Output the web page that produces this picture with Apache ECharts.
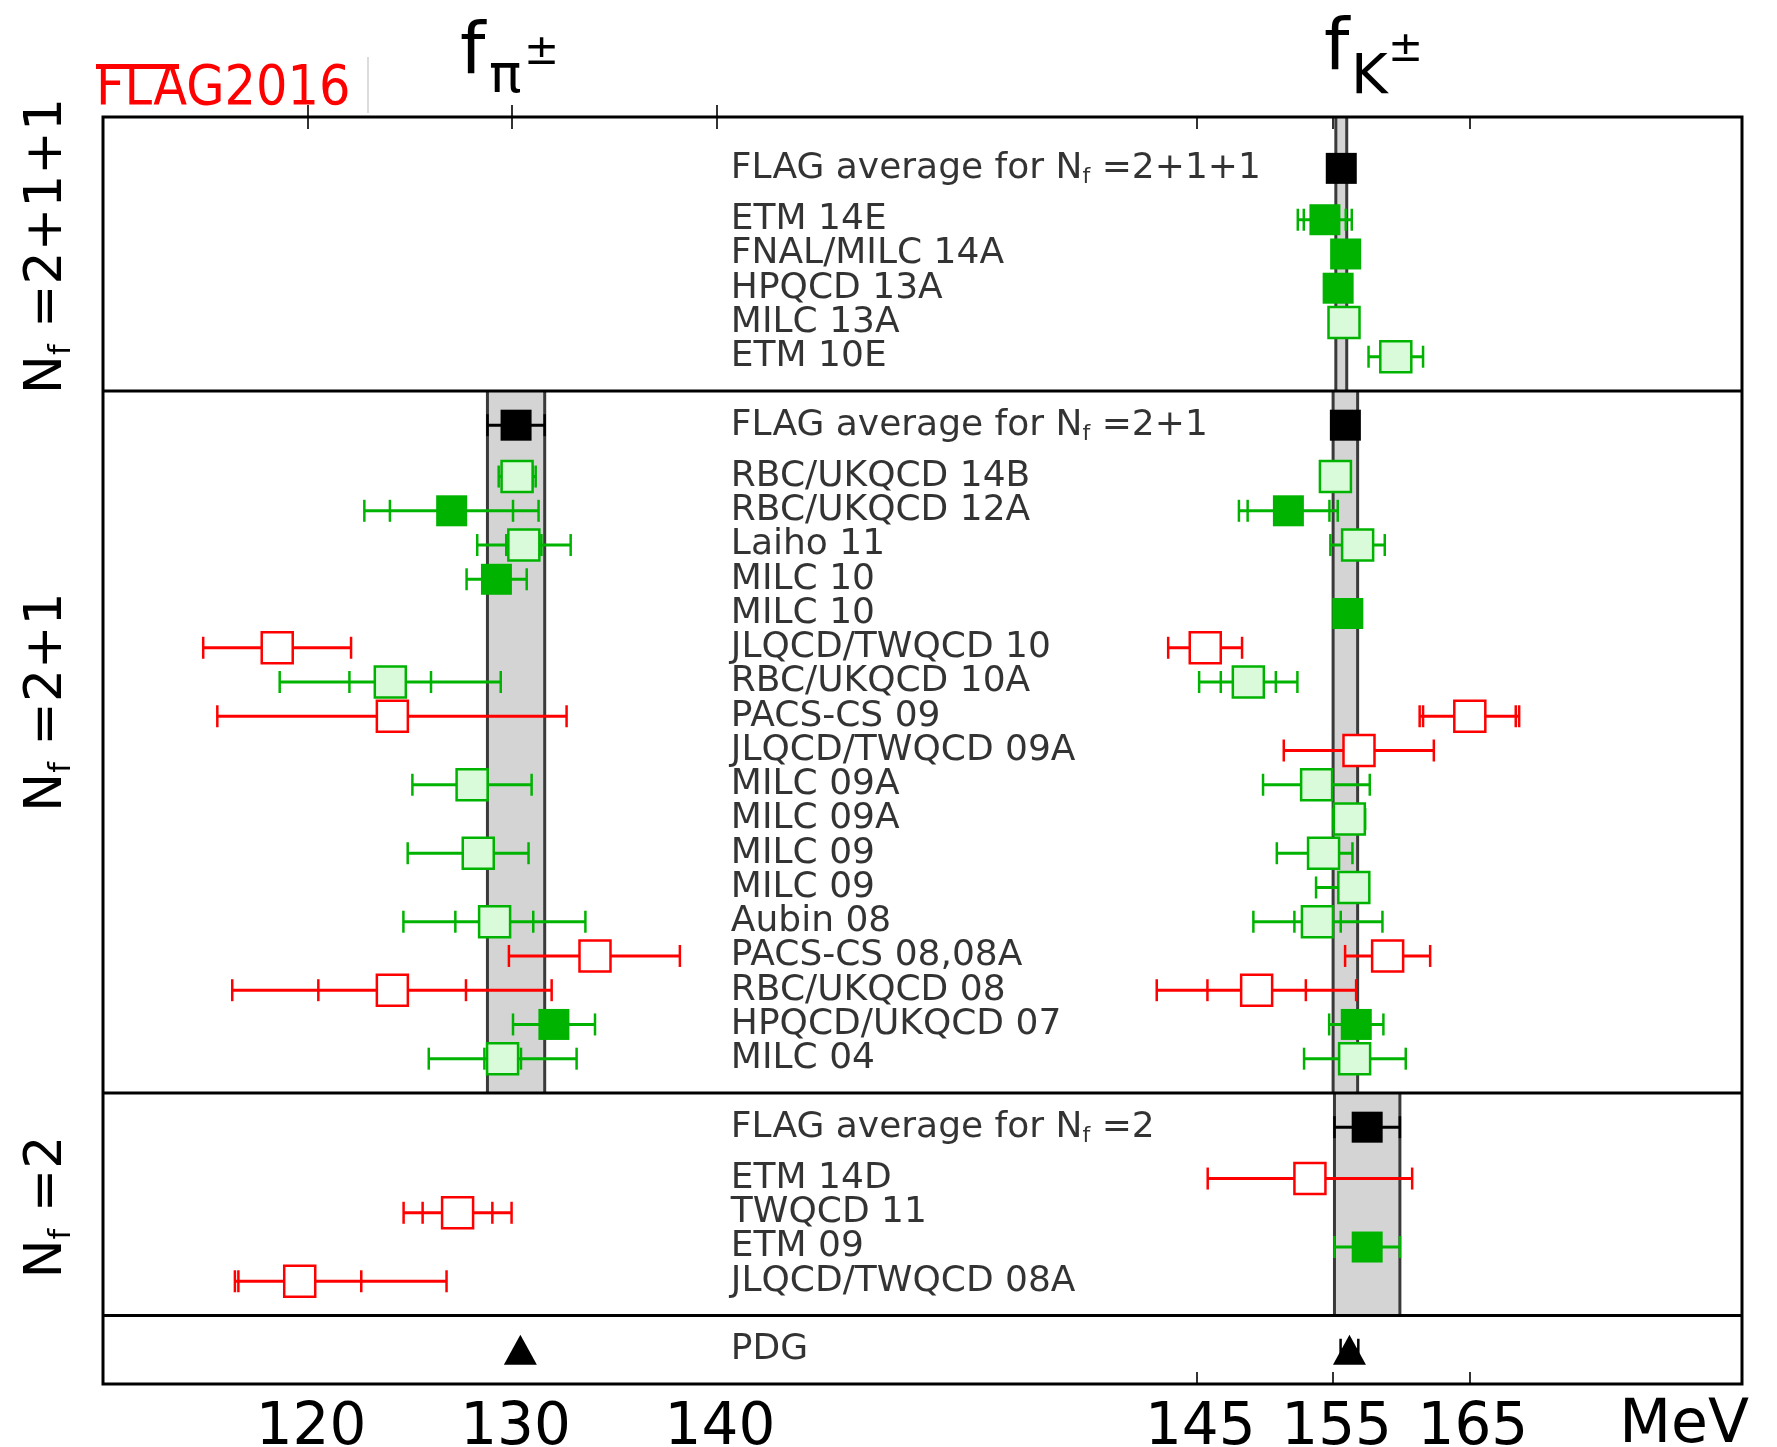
<!DOCTYPE html>
<html><head><meta charset="utf-8">
<script src="https://cdn.jsdelivr.net/npm/echarts@6/dist/echarts.min.js"></script>
<style>html,body{margin:0;padding:0;background:#fff}#c{width:1777px;height:1447px}</style>
</head><body><div id="c"></div>
<script>
// ---------------- DATA ----------------
const sectionNf = ['2+1+1', '2+1', '2'];
const rowLabels = [
  'FLAG average', 'ETM 14E', 'FNAL/MILC 14A', 'HPQCD 13A', 'MILC 13A', 'ETM 10E',
  'FLAG average', 'RBC/UKQCD 14B', 'RBC/UKQCD 12A', 'Laiho 11', 'MILC 10', 'MILC 10', 'JLQCD/TWQCD 10',
  'RBC/UKQCD 10A', 'PACS-CS 09', 'JLQCD/TWQCD 09A', 'MILC 09A', 'MILC 09A', 'MILC 09', 'MILC 09',
  'Aubin 08', 'PACS-CS 08,08A', 'RBC/UKQCD 08', 'HPQCD/UKQCD 07', 'MILC 04',
  'FLAG average', 'ETM 14D', 'TWQCD 11', 'ETM 09', 'JLQCD/TWQCD 08A',
  'PDG'
];
const rowSection = [0,0,0,0,0,0, 1,1,1,1,1,1,1,1,1,1,1,1,1,1,1,1,1,1,1, 2,2,2,2,2, 3];
const rowKind = ['avg','filled','filled','filled','open','open',
  'avg','open','filled','open','filled','filled','red','open','red','red','open','open','open','open','open','red','red','filled','open',
  'avg','red','red','filled','red',
  'pdg'];

// f_pi (MeV)
const fpiVal = [null,null,null,null,null,null,
  130.2,130.25,127.05,130.58,129.24,null,118.52,124.05,124.15,null,128.05,null,128.35,null,129.15,134.06,124.15,132.05,129.54,
  null,null,127.34,null,119.62,
  130.41];
const fpiStat = [null,null,null,null,null,null,
  null,[129.53,131.0],[124.03,130.05],[129.72,131.44],null,null,null,[122.05,126.04],null,null,null,null,null,null,[127.23,131.04],null,[120.53,127.75],null,[128.65,130.44],
  null,null,[125.63,129.04],null,[116.62,122.63],
  null];
const fpiTot = [null,null,null,null,null,null,
  [128.8,131.6],[129.35,131.16],[122.78,131.3],[128.3,132.87],[127.78,130.72],null,[114.9,122.13],[118.64,129.45],[115.59,132.67],null,[125.13,130.96],null,[124.9,130.81],null,[124.69,133.59],[129.85,138.21],[116.32,131.94],[130.05,134.06],[125.93,133.16],
  null,null,[124.7,129.98],null,[116.45,126.8],
  null];

// f_K (MeV)
const fkVal = [155.6,154.4,155.92,155.37,155.80,159.6,
  155.9,155.17,151.72,156.8,null,156.08,145.62,148.78,165.03,156.9,153.79,156.19,154.3,156.52,153.85,159.0,149.39,156.7,156.58,
  157.5,153.3,null,157.5,null,
  156.2];
const fkStat = [null,[152.85,155.93],null,null,null,null,
  null,null,[148.73,154.73],[155.8,157.8],null,null,null,[146.76,150.8],[161.6,168.4],null,null,null,null,null,[152.16,155.56],null,[145.78,153.0],null,null,
  null,null,null,null,null,
  null];
const fkTot = [[155.2,156.0],[152.41,156.37],[155.69,156.26],[155.03,155.71],[155.16,156.44],[157.6,161.6],
  [155.0,156.8],[154.3,156.06],[148.09,155.34],[154.8,158.79],null,[155.2,156.7],[142.9,148.32],[145.17,152.38],[161.35,168.65],[151.38,162.39],[149.86,157.69],[155.02,157.35],[150.87,156.42],[153.75,157.5],[149.15,158.62],[155.88,162.12],[142.06,156.69],[154.71,158.69],[152.87,160.33],
  [155.1,159.9],[145.8,160.8],null,[155.1,159.9],null,
  [155.55,156.85]];

// FLAG average bands per section
const fpiBands = [null, [128.8,131.6], null];
const fkBands  = [[155.2,156.0], [155.0,156.8], [155.1,159.9]];

const fpiTicks = [120,130,140];
const fkTicks  = [145,155,165];

// ---------------- LAYOUT ----------------
const FONT = 'DejaVu Sans';
const rowY = [];
const sectionBounds = [];
let cursor = 0.5;
for (let s = 0; s < 3; s++) {
  const idx = rowSection.map((v,i)=>v===s?i:-1).filter(i=>i>=0);
  const start = cursor;
  idx.forEach((ri, k) => { rowY[ri] = k === 0 ? start + 1 : start + 2.5 + (k - 1); });
  const end = start + 2.5 + (idx.length - 1);
  sectionBounds.push([s === 0 ? 0 : start, end]);
  cursor = end;
}
rowSection.forEach((s,i)=>{ if (s === 3) rowY[i] = cursor + 1; });
const yMax = cursor + 2;
const dividers = [sectionBounds[0][1], sectionBounds[1][1], sectionBounds[2][1]];

const kindFill = {avg:'#000000', filled:'#00b300', open:'#d9fbd9', red:'#ffffff', pdg:'#000000'};
const kindBorder = {avg:'#000000', filled:'#00b300', open:'#00b300', red:'#ff0000', pdg:'#000000'};
const kindBW = {avg:0, filled:0, open:2.5, red:2.5, pdg:0};
const kindLine = {avg:'#000000', filled:'#00b300', open:'#00b300', red:'#ff0000', pdg:'#000000'};

function bandSeries(axis, bands) {
  const data = [];
  bands.forEach((b, s) => { if (b) data.push([b[0], b[1], sectionBounds[s][0], sectionBounds[s][1]]); });
  return {
    type: 'custom', xAxisIndex: axis, yAxisIndex: 0, z: 1, silent: true,
    encode: {x: [0,1], y: [2,3]},
    data,
    renderItem(params, api) {
      const p0 = api.coord([api.value(0), api.value(2)]);
      const p1 = api.coord([api.value(1), api.value(3)]);
      return {type:'group', children:[
        {type:'rect', shape:{x:p0[0], y:p0[1], width:p1[0]-p0[0], height:p1[1]-p0[1]}, style:{fill:'#d4d4d4'}},
        {type:'line', shape:{x1:p0[0], y1:p0[1], x2:p0[0], y2:p1[1]}, style:{stroke:'#3a3a3a', lineWidth:3}},
        {type:'line', shape:{x1:p1[0], y1:p0[1], x2:p1[0], y2:p1[1]}, style:{stroke:'#3a3a3a', lineWidth:3}}
      ]};
    }
  };
}

function errSeries(axis, vals, stat, tot) {
  const data = [], cols = [];
  vals.forEach((v, i) => {
    if (v == null || !tot[i]) return;
    const st = stat[i];
    data.push([tot[i][0], tot[i][1], st ? st[0] : '-', st ? st[1] : '-', rowY[i]]);
    cols.push(kindLine[rowKind[i]]);
  });
  return {
    type: 'custom', xAxisIndex: axis, yAxisIndex: 0, z: 3, silent: true,
    encode: {x: [0,1], y: 4},
    data,
    renderItem(params, api) {
      const y = api.value(4);
      const col = cols[params.dataIndex];
      const a = api.coord([api.value(0), y]), b = api.coord([api.value(1), y]);
      const ch = [{type:'line', shape:{x1:a[0], y1:a[1], x2:b[0], y2:b[1]}, style:{stroke:col, lineWidth:3}}];
      [0,1,2,3].forEach(d => {
        const v = api.value(d);
        if (v === '-' || v == null || isNaN(v)) return;
        const p = api.coord([v, y]);
        ch.push({type:'line', shape:{x1:p[0], y1:p[1]-11, x2:p[0], y2:p[1]+11}, style:{stroke:col, lineWidth:2.5}});
      });
      return {type:'group', children: ch};
    }
  };
}

function markerSeries(axis, vals) {
  const data = [];
  vals.forEach((v, i) => {
    if (v == null) return;
    const k = rowKind[i];
    data.push({
      value: [v, rowY[i]],
      symbol: k === 'pdg' ? 'triangle' : 'rect',
      symbolSize: k === 'pdg' ? [33, 30] : 31,
      itemStyle: {color: kindFill[k], borderColor: kindBorder[k], borderWidth: kindBW[k], opacity: 1}
    });
  });
  return {type:'scatter', xAxisIndex: axis, yAxisIndex: 0, z: 4, silent: true, data};
}

const labelAnchor = 140.7; // fpi-axis units where the row names start
const labelSeries = {
  type: 'scatter', xAxisIndex: 0, yAxisIndex: 0, z: 5, silent: true,
  symbolSize: 0.1, itemStyle: {color: 'rgba(0,0,0,0)'},
  data: rowLabels.map((n, i) => ({value: [labelAnchor, rowY[i]], name: rowKind[i] === 'avg' ? 'FLAG average for N{f|f} =' + sectionNf[rowSection[i]] : n})),
  label: {
    show: true, position: 'right', distance: 0,
    formatter: p => p.name,
    fontFamily: FONT, fontSize: 36, color: '#000', lineHeight: 40,
    rich: {f: {fontFamily: FONT, fontSize: 22, lineHeight: 20, verticalAlign: 'bottom', color:'#000'}}
  }
};

const frameSeries = {
  type: 'custom', xAxisIndex: 0, yAxisIndex: 0, z: 6, silent: true,
  encode: {y: 0},
  data: dividers.map(d => [d]),
  renderItem(params, api) {
    const cs = params.coordSys;
    const y = api.coord([120, api.value(0)])[1];
    const ch = [{type:'line', shape:{x1:cs.x, y1:y, x2:cs.x+cs.width, y2:y}, style:{stroke:'#000', lineWidth:3}}];
    if (params.dataIndex === 0) ch.push({type:'rect', shape:{x:cs.x, y:cs.y, width:cs.width, height:cs.height}, style:{fill:'none', stroke:'#000', lineWidth:3}});
    return {type:'group', children: ch};
  }
};

function xAx(min, max, ticks, pos, labels) {
  return {
    type: 'value', gridIndex: 0, min, max, position: pos, offset: 0,
    axisLine: {show: false},
    splitLine: {show: false},
    axisTick: {show: true, inside: true, length: 12, customValues: ticks, lineStyle: {color: '#333', width: 2}},
    axisLabel: {show: labels, customValues: ticks, fontFamily: FONT, fontSize: 58, color: '#000', margin: 16, padding: [0,0,0,7]}
  };
}

const option = {
  animation: false,
  backgroundColor: '#fff',
  grid: {left: 103, top: 117, width: 1639, height: 1267, show: false, containLabel: false, outerBoundsMode: 'none'},
  xAxis: [
    xAx(110, 190.15, fpiTicks, 'bottom', true),
    xAx(64.75, 185, fkTicks, 'bottom', true),
    xAx(110, 190.15, fpiTicks, 'top', false),
    xAx(64.75, 185, fkTicks, 'top', false)
  ],
  yAxis: [{type: 'value', min: 0, max: yMax, inverse: true, show: false}],
  series: [
    bandSeries(0, fpiBands),
    bandSeries(1, fkBands),
    errSeries(0, fpiVal, fpiStat, fpiTot),
    errSeries(1, fkVal, fkStat, fkTot),
    markerSeries(0, fpiVal),
    markerSeries(1, fkVal),
    labelSeries,
    frameSeries
  ],
  graphic: [
    // FLAG2016 logo
    {type:'text', x:96, y:90, style:{text:'FLAG2016', fontFamily:'DejaVu Sans Condensed', fontSize:55, fill:'#ff0000', align:'left', verticalAlign:'middle'}},
    {type:'rect', shape:{x:96, y:64, width:83, height:5}, style:{fill:'#ff0000'}},
    {type:'line', shape:{x1:368, y1:57, x2:368, y2:113}, style:{stroke:'#d0d0d0', lineWidth:1.5}},
    // titles
    {type:'text', x:460, y:54, style:{text:'f', fontFamily:FONT, fontSize:72, fill:'#000', align:'left', verticalAlign:'middle'}},
    {type:'text', x:489, y:78, style:{text:'\u03c0', fontFamily:FONT, fontSize:54, fill:'#000', align:'left', verticalAlign:'middle'}},
    {type:'text', x:524, y:53, style:{text:'\u00b1', fontFamily:FONT, fontSize:42, fill:'#000', align:'left', verticalAlign:'middle'}},
    {type:'text', x:1324, y:50, style:{text:'f', fontFamily:FONT, fontSize:72, fill:'#000', align:'left', verticalAlign:'middle'}},
    {type:'text', x:1351, y:78, style:{text:'K', fontFamily:FONT, fontSize:56, fill:'#000', align:'left', verticalAlign:'middle'}},
    {type:'text', x:1388, y:50, style:{text:'\u00b1', fontFamily:FONT, fontSize:42, fill:'#000', align:'left', verticalAlign:'middle'}},
    // unit
    {type:'text', x:1749, y:1426, style:{text:'MeV', fontFamily:FONT, fontSize:60, fill:'#000', align:'right', verticalAlign:'middle'}},
    // section labels (rotated)
    ...[246, 702, 1207].map((yy, s) => ({
      type:'text', x:47, y:yy, rotation: Math.PI/2,
      style:{text:'N{f|f} =' + sectionNf[s], fontFamily:FONT, fontSize:52, lineHeight:60, fill:'#000', align:'center', verticalAlign:'middle',
        rich:{f:{fontFamily:FONT, fontSize:30, lineHeight:30, verticalAlign:'bottom'}}}
    }))
  ]
};

const chart = echarts.init(document.getElementById('c'), null, {renderer:'canvas', width:1777, height:1447});
chart.setOption(option);
</script>
</body></html>
